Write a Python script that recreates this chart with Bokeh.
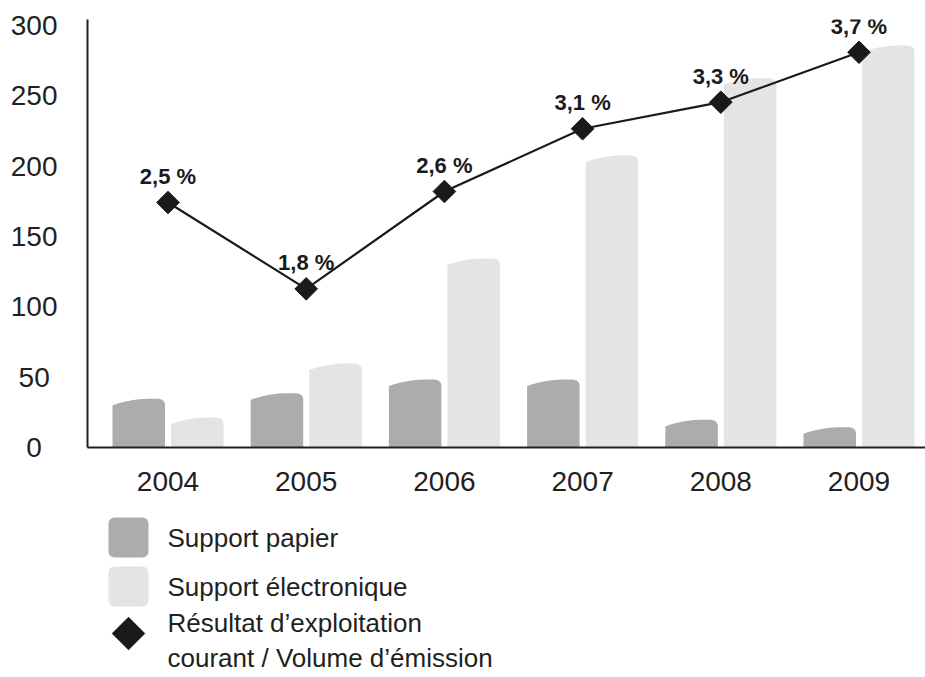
import numpy as np
from bokeh.plotting import figure
from bokeh.models import Range1d, FixedTicker, ColumnDataSource
from bokeh.layouts import column
from bokeh.core.properties import value
from bokeh.embed import file_html
from bokeh.resources import INLINE

# ---------------- data ----------------
years = [2004, 2005, 2006, 2007, 2008, 2009]
papier = [34.6, 38.6, 48.3, 48.3, 19.7, 14.4]
electronique = [21.3, 59.7, 134.4, 207.6, 262.5, 285.8]
resultat = [174.2, 112.8, 182.0, 226.6, 245.5, 281.0]
resultat_labels = ["2,5 %", "1,8 %", "2,6 %", "3,1 %", "3,3 %", "3,7 %"]
y_ticks = [0, 50, 100, 150, 200, 250, 300]
legend_labels = ["Support papier", "Support électronique",
                 "Résultat d’exploitation", "courant / Volume d’émission"]

# ---------------- style ----------------
DARK = "#abacae"
LIGHT = "#e4e4e4"
INK = "#231f20"
FONT = "Liberation Sans"

W, H_MAIN, H_LEG = 925, 500, 177
LEFT, TOP, BOTTOM = 87, 19, 53
frame_w = W - LEFT
frame_h = H_MAIN - TOP - BOTTOM
x_start = 2004 - 0.5825
x_end = x_start + frame_w / 138.2
y_end = 304.3
ux = (x_end - x_start) / frame_w   # data units per px (x)
uy = y_end / frame_h               # data units per px (y)

bar_w = 52.5 * ux
off = (52.5 / 2 + 3) * ux


def bar_shape(xc, top):
    """Bar outline with a slanted, rounded 'cylinder' top."""
    t = np.linspace(0, 1, 60)
    tp, tc = 0.70, 0.86
    drop = np.where(
        t <= tp, 6.5 * ((tp - t) / tp) ** 2,
        np.where(t <= tc, 0.0,
                 5.5 * (1 - np.sqrt(np.clip(1 - ((t - tc) / (1 - tc)) ** 2, 0, 1)))))
    x0 = xc - bar_w / 2
    xs = [x0] + list(x0 + t * bar_w) + [x0 + bar_w]
    ys = [0] + list(np.maximum(top - drop * uy, 0)) + [0]
    return xs, ys


def shapes(values, shift):
    xs, ys = [], []
    for yr, v in zip(years, values):
        a, b = bar_shape(yr + shift, v)
        xs.append(a)
        ys.append(b)
    return ColumnDataSource(dict(xs=xs, ys=ys))


p = figure(width=W, height=H_MAIN, x_range=Range1d(x_start, x_end),
           y_range=Range1d(0, y_end), output_backend="svg", toolbar_location=None,
           min_border_left=LEFT, min_border_right=0, min_border_top=TOP,
           min_border_bottom=BOTTOM)
p.outline_line_color = None
p.xgrid.visible = False
p.ygrid.visible = False
p.background_fill_color = "white"
p.border_fill_color = "white"

p.patches("xs", "ys", source=shapes(papier, -off), fill_color=DARK, line_color=None)
p.patches("xs", "ys", source=shapes(electronique, off), fill_color=LIGHT, line_color=None)

p.line(years, resultat, line_color="#1a1a1a", line_width=2.2)
p.scatter(years, resultat, marker="square", angle=np.pi / 4, size=16,
          fill_color="#1a1a1a", line_color="#1a1a1a")
p.text(years, resultat, text=resultat_labels, y_offset=-26,
       text_font=value(FONT), text_font_style="bold", text_font_size="22px",
       text_align="center", text_baseline="middle", text_color="#1a1a1a")

# axes
for ax in (p.xaxis[0], p.yaxis[0]):
    ax.axis_line_width = 2
    ax.axis_line_color = INK
    ax.major_tick_line_color = None
    ax.minor_tick_line_color = None
    ax.major_label_text_font = FONT
    ax.major_label_text_font_size = "28px"
    ax.major_label_text_color = INK

p.xaxis.ticker = FixedTicker(ticks=years)
p.xaxis.major_label_standoff = 18

p.yaxis.ticker = FixedTicker(ticks=y_ticks)
p.yaxis.major_label_standoff = 24
# pad the short labels so every label is centred in the same column
p.yaxis.major_label_overrides = {0: "0\u2007", 50: "50\u2008"}

# ---------------- legend (separate panel, frame aligned with the chart) ----------------
leg = figure(width=W, height=H_LEG, x_range=Range1d(LEFT, W), y_range=Range1d(H_LEG, 0),
             output_backend="svg", toolbar_location=None,
             x_axis_type=None, y_axis_type=None,
             min_border_left=LEFT, min_border_right=0, min_border_top=0, min_border_bottom=0)
leg.outline_line_color = None
leg.xgrid.visible = False
leg.ygrid.visible = False
leg.background_fill_color = "white"
leg.border_fill_color = "white"

leg.rect(x=[128], y=[37], width=40, height=40, fill_color=DARK, line_color=None,
         border_radius=6)
leg.rect(x=[128], y=[86], width=40, height=40, fill_color=LIGHT, line_color=None,
         border_radius=6)
leg.scatter(x=[128], y=[133], marker="square", angle=np.pi / 4, size=23,
            fill_color="#1a1a1a", line_color="#1a1a1a")
leg.text(x=[167, 167, 167, 167], y=[37, 86, 122, 157], text=legend_labels,
         text_font=value(FONT), text_font_size="26px", text_color=INK,
         text_align="left", text_baseline="middle")

layout = column(p, leg, spacing=0)
open("out.html", "w").write(file_html(layout, INLINE))
